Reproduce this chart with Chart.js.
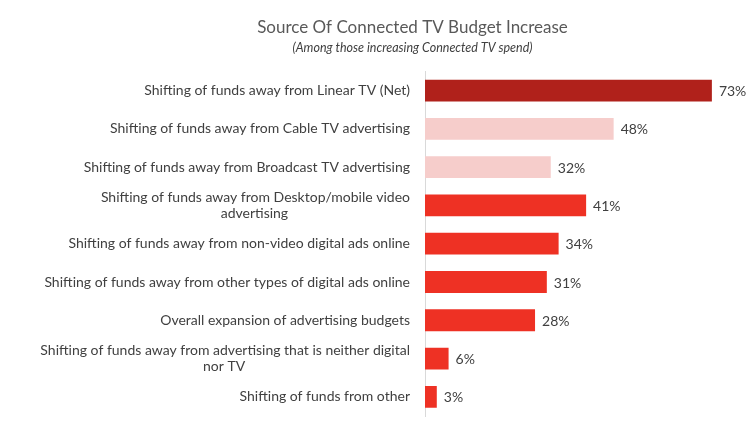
<!DOCTYPE html>
<html>
<head>
<meta charset="utf-8">
<script src="https://cdn.jsdelivr.net/npm/chart.js@4"></script>
<style>
  html, body { margin: 0; padding: 0; background: #fff; }
  #wrap { width: 750px; height: 424px; }
</style>
</head>
<body>
<div id="wrap"><canvas id="budget"></canvas></div>
<script>
// categories (multi-line ones as arrays)
var sources = [
  "Shifting of funds away from Linear TV (Net)",
  "Shifting of funds away from Cable TV advertising",
  "Shifting of funds away from Broadcast TV advertising",
  ["Shifting of funds away from Desktop/mobile video", "advertising"],
  "Shifting of funds away from non-video digital ads online",
  "Shifting of funds away from other types of digital ads online",
  "Overall expansion of advertising budgets",
  ["Shifting of funds away from advertising that is neither digital", "nor TV"],
  "Shifting of funds from other"
];
var shares = [73, 48, 32, 41, 34, 31, 28, 6, 3];
var barColors = ['#B0211B', '#F6CDCB', '#F6CDCB', '#EE3124', '#EE3124', '#EE3124', '#EE3124', '#EE3124', '#EE3124'];

var fontFam = "Lato, 'Open Sans', sans-serif";

var ctx = document.getElementById("budget").getContext('2d');

// wrapped labels are centred line by line in the original, so pad the short
// lines with trailing spaces (labels are right aligned against the axis)
ctx.font = '14px ' + fontFam;
var spaceW = ctx.measureText(' ').width;
var tickLabels = sources.map(function (lab) {
  if (!Array.isArray(lab)) return lab;
  var widths = lab.map(function (l) { return ctx.measureText(l).width; });
  var maxW = Math.max.apply(null, widths);
  return lab.map(function (l, i) {
    var n = Math.round((maxW - widths[i]) / 2 / spaceW);
    return l + ' '.repeat(n);
  });
});

// draws the "73%" style labels next to each bar
var valueLabels = {
  id: 'valueLabels',
  afterDatasetsDraw: function (chart) {
    var c = chart.ctx;
    var meta = chart.getDatasetMeta(0);
    c.save();
    c.font = '14px ' + fontFam;
    c.fillStyle = '#404040';
    c.textAlign = 'left';
    c.textBaseline = 'middle';
    meta.data.forEach(function (bar, i) {
      c.fillText(shares[i] + '%', bar.x + 7, bar.y + 1);
    });
    c.restore();
  }
};

var myChart = new Chart(ctx, {
  type: 'bar',
  data: {
    labels: tickLabels,
    datasets: [{
      data: shares,
      backgroundColor: barColors,
      borderWidth: 0,
      categoryPercentage: 1,
      barPercentage: 0.57
    }]
  },
  options: {
    indexAxis: 'y',
    responsive: true,
    maintainAspectRatio: false,
    animation: false,
    // negative right padding pushes the title centre to the right like the original
    layout: { padding: { left: 0, right: -75, top: 17, bottom: 8 } },
    plugins: {
      legend: { display: false },
      tooltip: { enabled: false },
      title: {
        display: true,
        text: 'Source Of Connected TV Budget Increase',
        color: '#595959',
        font: { family: fontFam, size: 17, weight: 'normal' },
        padding: { top: 0, bottom: 3 }
      },
      subtitle: {
        display: true,
        text: '(Among those increasing Connected TV spend)',
        color: '#404040',
        font: { family: fontFam, size: 12.5, style: 'italic' },
        padding: { top: 0, bottom: 16 }
      }
    },
    scales: {
      x: {
        display: false,
        min: 0,
        max: 82.7
      },
      y: {
        afterFit: function (axis) {
          axis.width = 425;
          axis.paddingTop = 0;
          axis.paddingBottom = 0;
        },
        grid: { display: false, drawTicks: false },
        border: { display: true, color: '#D9D9D9', width: 1 },
        ticks: {
          padding: 15,
          color: '#404040',
          font: { family: fontFam, size: 14 }
        }
      }
    }
  },
  plugins: [valueLabels]
});
</script>
</body>
</html>
